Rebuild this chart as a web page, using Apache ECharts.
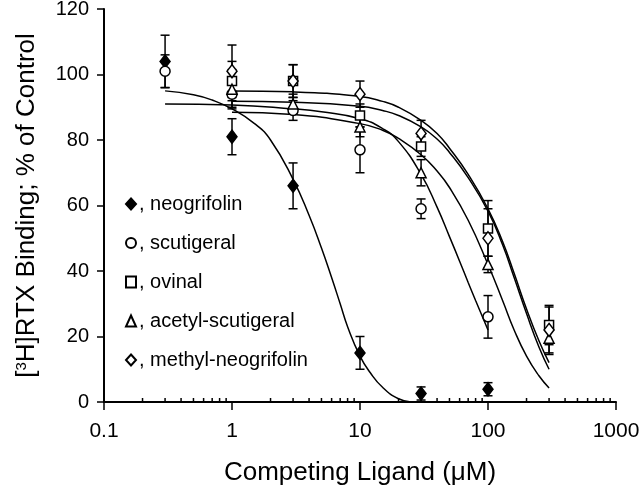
<!DOCTYPE html>
<html>
<head>
<meta charset="utf-8">
<script src="https://cdn.jsdelivr.net/npm/echarts@6/dist/echarts.min.js"></script>
<style>
  html, body { margin: 0; padding: 0; background: #fff; }
  #chart { width: 640px; height: 488px; }
</style>
</head>
<body>
<div id="chart"></div>
<script>
    // series names, legend glyphs
    var names = ['neogrifolin', 'scutigeral', 'ovinal', 'acetyl-scutigeral', 'methyl-neogrifolin'];
    var symbols = ['diamond', 'circle', 'rect', 'triangle', 'diamond'];
    var fills = ['#000', '#fff', '#fff', '#fff', '#fff'];
    var sizes = [[10, 13], 10, 9, [10, 10], [10, 13]];

    // measured points: [concentration uM, % of control, error]
    var neoPts    = [[0.3, 104, 8], [1, 81, 5.5], [3, 66, 7], [10, 15, 5], [30, 2.6, 2], [100, 3.9, 2]];
    var scutPts   = [[0.3, 101, 5], [1, 94, 4], [3, 89, 3], [10, 77, 7], [30, 59, 3], [100, 26, 6.5]];
    var ovinPts   = [[1, 98, 6], [3, 98, 5], [10, 87.5, 3.5], [30, 78, 3], [100, 53, 8.5], [300, 23.5, 6]];
    var acetPts   = [[1, 95.5, 6], [3, 91, 3], [10, 84, 3], [30, 70, 4], [100, 42, 2.5], [300, 19.5, 5]];
    var methPts   = [[1, 101, 8], [3, 98, 5], [10, 94, 4], [30, 82, 4], [100, 50, 9], [300, 22, 7]];

    // fitted curves: [x, y]
    var neoFit  = [[0.3, 95], [0.5, 93.8], [0.7, 92.2], [1, 89.5], [1.5, 85], [2, 80], [3, 68], [4, 57], [5, 47],
                   [6, 38], [7, 30], [8, 23], [10, 14], [12, 9], [15, 4.5], [20, 1], [25, 0]];
    var scutFit = [[0.3, 91], [1, 90.7], [3, 89.5], [5, 88.6], [10, 86.5], [15, 83.5], [20, 79.5],
                   [30, 69.5], [40, 59.5], [50, 50.5], [60, 43], [70, 36.5], [80, 31], [100, 22]];
    var ovinFit = [[1, 91.8], [3, 91.5], [10, 90.3], [15, 89], [20, 87.5], [30, 84], [40, 80.3], [50, 76.2],
                   [70, 68.5], [100, 58.3], [130, 48], [160, 38], [200, 27], [250, 16.8], [300, 10]];
    var acetFit = [[1, 88.5], [3, 87.8], [10, 85], [15, 83], [20, 80.5], [30, 75.5], [40, 70.5], [50, 65.5],
                   [70, 55.5], [100, 42], [130, 31], [160, 22], [200, 14], [250, 8], [300, 4.3]];
    var methFit = [[1, 95], [3, 94.7], [10, 93.3], [15, 91.8], [20, 90], [30, 86], [40, 82], [50, 77.5],
                   [70, 69.5], [100, 59], [130, 49], [160, 39.3], [200, 28.4], [250, 18.7], [300, 12]];

    var allPts = [neoPts, scutPts, ovinPts, acetPts, methPts];
    var allFits = [neoFit, scutFit, ovinFit, acetFit, methFit];

    // minor ticks 2..9 in each decade
    var minorTicks = [];
    [0.1, 1, 10, 100].forEach(function (d) {
        for (var k = 2; k <= 9; k++) minorTicks.push([+(d * k).toPrecision(3), 0]);
    });

    var font = 'Liberation Sans, Arial, sans-serif';

    function errRender(params, api) {
        var x = api.value(0);
        var lo = api.coord([x, api.value(1)]);
        var hi = api.coord([x, api.value(2)]);
        var w = 4.5;
        var st = { stroke: '#000', lineWidth: 1.5 };
        return {
            type: 'group',
            children: [
                { type: 'line', shape: { x1: lo[0], y1: lo[1], x2: hi[0], y2: hi[1] }, style: st },
                { type: 'line', shape: { x1: lo[0] - w, y1: lo[1], x2: lo[0] + w, y2: lo[1] }, style: st },
                { type: 'line', shape: { x1: hi[0] - w, y1: hi[1], x2: hi[0] + w, y2: hi[1] }, style: st }
            ]
        };
    }

    function tickRender(params, api) {
        var p = api.coord([api.value(0), 0]);
        return {
            type: 'line',
            shape: { x1: p[0], y1: p[1], x2: p[0], y2: p[1] - 4 },
            style: { stroke: '#000', lineWidth: 1.5 }
        };
    }

    var series = [];
    allFits.forEach(function (fit, i) {
        series.push({
            name: names[i] + ' fit',
            type: 'line',
            data: fit,
            smooth: 0.5,
            showSymbol: false,
            silent: true,
            z: 3,
            lineStyle: { color: '#000', width: 1.5 }
        });
    });
    allPts.forEach(function (pts, i) {
        series.push({
            name: names[i] + ' err',
            type: 'custom',
            renderItem: errRender,
            encode: { x: 0, y: [1, 2] },
            data: pts.map(function (p) { return [p[0], p[1] - p[2], p[1] + p[2]]; }),
            z: 2
        });
    });
    allPts.forEach(function (pts, i) {
        series.push({
            name: names[i],
            type: 'scatter',
            symbol: symbols[i],
            symbolSize: sizes[i],
            data: pts.map(function (p) { return [p[0], p[1]]; }),
            z: 5,
            itemStyle: { color: fills[i], borderColor: '#000', borderWidth: 1.5, opacity: 1 }
        });
    });
    series.push({
        name: 'minor',
        type: 'custom',
        renderItem: tickRender,
        data: minorTicks,
        clip: false,
        z: 6
    });

    var chart = echarts.init(document.getElementById('chart'));
    chart.setOption({
        animation: false,
        backgroundColor: '#fff',
        textStyle: { fontFamily: font, color: '#000' },
        grid: { left: 104, right: 24, top: 9, bottom: 86, containLabel: false, outerBoundsMode: 'none' },
        legend: {
            data: names.map(function (n, i) { return { name: n, icon: symbols[i] }; }),
            orient: 'vertical',
            left: 120,
            top: 189,
            itemWidth: 10,
            itemHeight: 11,
            itemGap: 19,
            selectedMode: false,
            formatter: function (n) { return ', ' + n; },
            textStyle: { fontFamily: font, fontSize: 20, color: '#000', padding: [0, 0, 0, -2] }
        },
        xAxis: {
            type: 'log',
            logBase: 10,
            min: 0.1,
            max: 1000,
            name: 'Competing Ligand (\u03bcM)',
            nameLocation: 'middle',
            nameGap: 58,
            nameTextStyle: { fontFamily: font, fontSize: 26, color: '#000' },
            axisLine: { lineStyle: { color: '#000', width: 2 } },
            axisTick: { length: 8, lineStyle: { color: '#000', width: 1.5 } },
            axisLabel: {
                fontFamily: font, fontSize: 21, color: '#000', margin: 19,
                formatter: function (v) { return String(v); }
            },
            splitLine: { show: false }
        },
        yAxis: {
            type: 'value',
            min: 0,
            max: 120,
            interval: 20,
            name: '[{sup|3}H]RTX Binding; % of Control',
            nameLocation: 'middle',
            nameGap: 64,
            nameTextStyle: {
                fontFamily: font, fontSize: 26, color: '#000',
                rich: { sup: { fontFamily: font, fontSize: 15, color: '#000', verticalAlign: 'top', padding: [0, 0, 11, 0] } }
            },
            axisLine: { show: true, lineStyle: { color: '#000', width: 2 } },
            axisTick: { length: 7, lineStyle: { color: '#000', width: 1.5 } },
            axisLabel: { fontFamily: font, fontSize: 20, color: '#000', margin: 15 },
            splitLine: { show: false }
        },
        series: series
    });
</script>
</body>
</html>
